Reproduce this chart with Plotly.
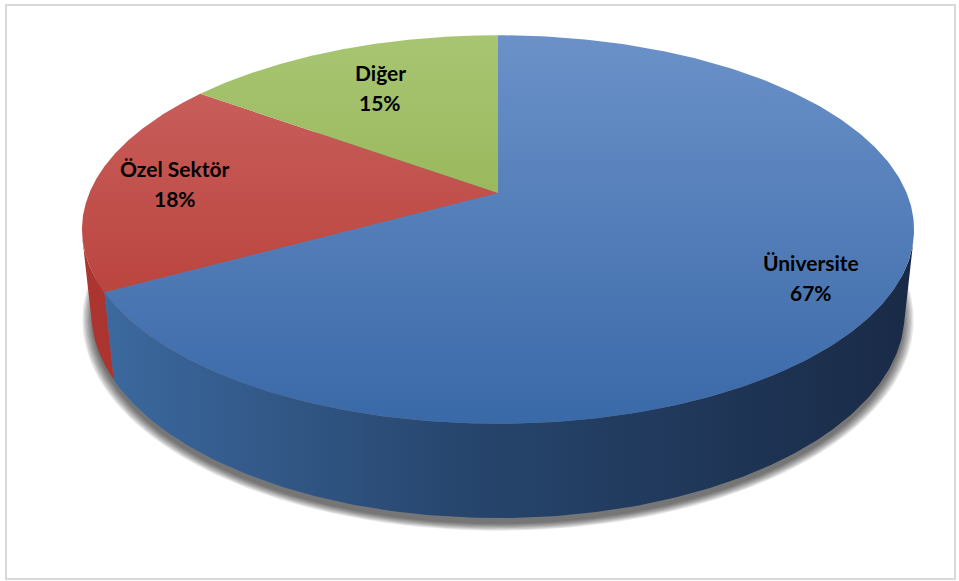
import numpy as np
import plotly.graph_objects as go

# ---- data ----
categories = ["Üniversite", "Özel Sektör", "Diğer"]
values = [67, 18, 15]

# ---- styles ----
top_colors = [("#6b91c8", "#3a69a8"), ("#cb6461", "#b3352e"), ("#a8c572", "#86a83f")]
wall_scales = [
    [[0, "#3d6ba2"], [0.45, "#27466e"], [1, "#192a46"]],
    [[0, "#ac3530"], [1, "#8c2925"]],
    [[0, "#86a83f"], [1, "#5f7a2a"]],
]
label_r = [0.82, 0.80, 0.71]
W, HGT = 959, 581

# ---- 3D projection parameters (perspective view of a cylinder) ----
E = np.radians(27.3)
S, C = np.sin(E), np.cos(E)
D, F = 4.735, 1935.0
CX, CY = 498.0, 193.0
DEPTH = 0.231


def proj(theta_deg, r, Y):
    th = np.radians(np.asarray(theta_deg, dtype=float))
    X = r * np.cos(th)
    Z = -r * np.sin(th)
    v = Y * C - Z * S
    dep = D - Z * C - Y * S
    return CX + F * X / dep, CY - F * v / dep


fig = go.Figure()

# full-circle extents for gradients
full = np.linspace(0, 360, 721)
fx, fy = proj(full, 1.0, 0.0)
x_min, x_max = float(fx.min()), float(fx.max())
y_min, y_max = float(fy.min()), float(fy.max())

# ---- soft shadow under the pie ----
for k in range(8):
    rr = 1.0 + 0.0032 * k
    sx, sy = proj(full, rr, -DEPTH - 0.01)
    fig.add_trace(go.Scatter(x=sx, y=sy + 2, mode="lines", fill="toself",
                             line=dict(width=0), fillcolor="rgba(0,0,0,0.09)",
                             hoverinfo="skip"))

# ---- slice angles ----
total = float(sum(values))
angles = []
start = 90.0
for v in values:
    end = start - 360.0 * v / total
    angles.append((end, start))
    start = end

# visible outer-wall range
lim = np.degrees(np.arcsin(-1.0 / (D * C)))
vis_lo, vis_hi = -180.0 - lim, lim

# ---- outer walls ----
for i, (a1, a0) in enumerate(angles):
    lo, hi = max(a1, vis_lo), min(a0, vis_hi)
    if lo >= hi:
        continue
    t = np.linspace(lo, hi, 200)
    tx, ty = proj(t, 1.0, 0.0)
    bx, by = proj(t[::-1], 1.0, -DEPTH)
    xs = np.concatenate([tx, bx, tx[:1]])
    ys = np.concatenate([ty, by, ty[:1]])
    fig.add_trace(go.Scatter(x=xs, y=ys, mode="lines", fill="toself",
                             line=dict(width=0),
                             fillgradient=dict(type="horizontal", colorscale=wall_scales[i],
                                               start=x_min, stop=x_max),
                             hoverinfo="skip"))

# ---- top faces ----
for i, (a1, a0) in enumerate(angles):
    t = np.linspace(a0, a1, 300)
    ax, ay = proj(t, 1.0, 0.0)
    ox, oy = proj([0.0], 0.0, 0.0)
    xs = np.concatenate([ox, ax, ox])
    ys = np.concatenate([oy, ay, oy])
    fig.add_trace(go.Scatter(x=xs, y=ys, mode="lines", fill="toself",
                             line=dict(width=0),
                             fillgradient=dict(type="vertical",
                                               colorscale=[[0, top_colors[i][0]], [1, top_colors[i][1]]],
                                               start=y_min, stop=y_max),
                             hoverinfo="skip"))

# ---- labels ----
annotations = []
for i, (a1, a0) in enumerate(angles):
    mid = 0.5 * (a0 + a1)
    lx, ly = proj([mid], label_r[i], 0.0)
    pct = f"{round(values[i] / total * 100)}%"
    for txt, shift in ((categories[i], 15), (pct, -15)):
        annotations.append(dict(x=float(lx[0]), y=float(ly[0]), xref="x", yref="y",
                                text=f"<b>{txt}</b>", showarrow=False, yshift=shift,
                                font=dict(family="Lato", size=21, color="#000000")))

fig.update_layout(
    width=W, height=HGT,
    margin=dict(l=0, r=0, t=0, b=0),
    paper_bgcolor="white", plot_bgcolor="white",
    showlegend=False, hovermode=False,
    xaxis=dict(range=[0, W], visible=False, fixedrange=True),
    yaxis=dict(range=[HGT, 0], visible=False, fixedrange=True),
    annotations=annotations,
    shapes=[dict(type="rect", xref="x", yref="y", x0=6, y0=5, x1=955, y1=579,
                 line=dict(color="#d9d9d9", width=2), layer="below")],
)

fig.write_html("out.html")
